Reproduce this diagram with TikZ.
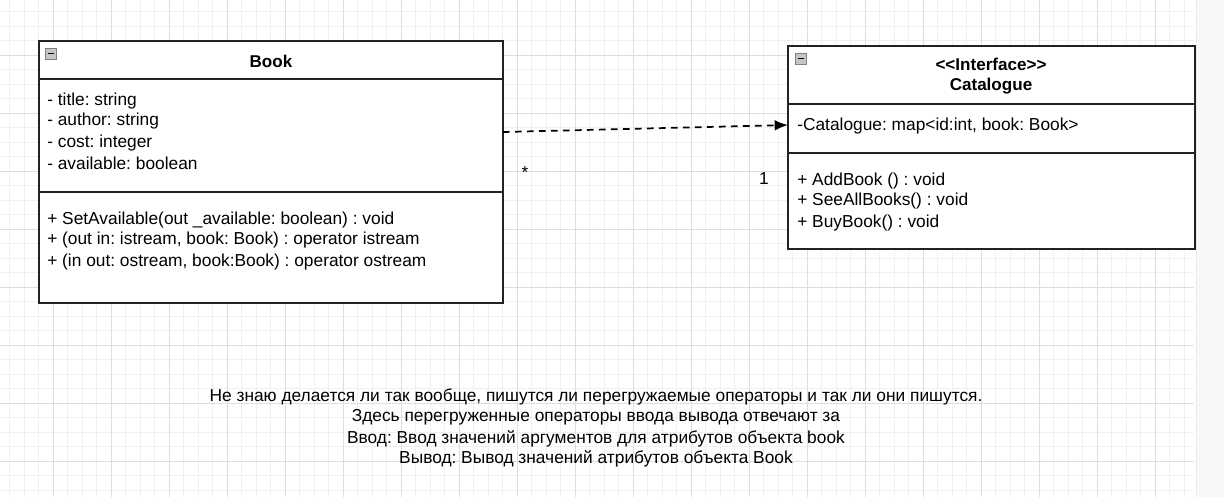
\documentclass[tikz,border=0pt]{standalone}
\usepackage{fontspec}
\setmainfont{Liberation Sans}
\usetikzlibrary{arrows.meta}
\definecolor{gridminor}{HTML}{F0F0F0}
\definecolor{gridmajor}{HTML}{DDDDDD}
\definecolor{boxline}{HTML}{222222}
\definecolor{strip}{HTML}{F8F8F8}
\frenchspacing
\begin{document}
\begin{tikzpicture}[x=0.75pt,y=-0.75pt,
		member/.style={anchor=west, inner sep=0pt, yshift=-1.5pt, font=\fontsize{13}{15}\selectfont},
		classname/.style={inner sep=0pt, align=center, font=\fontsize{12.8}{15}\selectfont\bfseries},
		note/.style={inner sep=0pt, yshift=-1.5pt, font=\fontsize{13}{15}\selectfont}]
		\useasboundingbox (0,0) rectangle (1224,497);
		
		% background grid
		\fill[white] (0,0) rectangle (1196,497);
		\fill[strip] (1196,0) rectangle (1224,497);
		\draw[gridmajor!60, line width=0.4pt] (1196,0) -- (1196,497);
		\foreach \k in {0,...,81} \draw[gridminor, line width=0.6pt] ({9.8+14.5*\k},0) -- ({9.8+14.5*\k},497);
		\foreach \k in {0,...,33} \draw[gridminor, line width=0.6pt] (0,{11.5+14.5*\k}) -- (1194,{11.5+14.5*\k});
		\foreach \k in {0,...,19} \draw[gridmajor, line width=0.6pt] ({53.3+58*\k},0) -- ({53.3+58*\k},497);
		\foreach \k in {0,...,7} \draw[gridmajor, line width=0.6pt] (0,{55+58*\k}) -- (1194,{55+58*\k});
		
		\coordinate (B1) at (39,41);
		\coordinate (B2) at (503,303);
		\coordinate (C1) at (788,46);
		\coordinate (C2) at (1195,249);
		
		% Book
		\filldraw[boxline, line width=1.3pt, fill=white] (B1) rectangle (B2);
		\draw[boxline, line width=1.3pt] (39,79) -- (503,79);
		\draw[boxline, line width=1.3pt] (39,192) -- (503,192);
		\filldraw[draw=gray, fill=gray!45, line width=0.6pt] (45,48) rectangle (56,59);
		\draw[black, line width=1pt] (47.5,53.5) -- (53.5,53.5);
		\node[classname] (bookname) at (271,61) {Book};
		\node[member] (title) at (47,99) {- title: string};
		\node[member] (author) at (47,119) {- author: string};
		\node[member] (cost) at (47,141) {- cost: integer};
		\node[member] (avail) at (47,161) {- available: boolean};
		\node[member] (setavail) at (47,218) {+ SetAvailable(out \_available: boolean) : void};
		\node[member] (opin) at (47,238) {+ (out in: istream, book: Book) : operator istream};
		\node[member] (opout) at (47,260) {+ (in out: ostream, book:Book) : operator ostream};
		
		% Catalogue
		\filldraw[boxline, line width=1.3pt, fill=white] (C1) rectangle (C2);
		\draw[boxline, line width=1.3pt] (788,104) -- (1195,104);
		\draw[boxline, line width=1.3pt] (788,153) -- (1195,153);
		\filldraw[draw=gray, fill=gray!45, line width=0.6pt] (795,53) rectangle (806,64);
		\draw[black, line width=1pt] (797.5,58.5) -- (803.5,58.5);
		\node[classname] (catname) at (991,76) {<\kern0pt<Interface>\kern0pt>\\Catalogue};
		\node[member] (catmap) at (797,124) {-Catalogue: map<id:int, book: Book>};
		\node[member] (addbook) at (797,179) {+ AddBook () : void};
		\node[member] (seeall) at (797,199) {+ SeeAllBooks() : void};
		\node[member] (buybook) at (797,221) {+ BuyBook() : void};
		
		% association
		\coordinate (bookport) at (503,132);
		\coordinate (catport) at (788,125);
		\draw[black, line width=1.3pt, dash pattern=on 5pt off 4pt, -{Latex[length=10pt,width=8pt]}] (bookport) -- (catport);
		\node[member, anchor=center] (many) at (525,171) {*};
		\node[member, anchor=center] (one) at (764,177) {1};
		
		% note
		\node[note] (line1) at (596,395) {Не знаю делается ли так вообще, пишутся ли перегружаемые операторы и так ли они пишутся.};
		\node[note] (line2) at (596,415) {Здесь перегруженные операторы ввода вывода отвечают за};
		\node[note] (line3) at (596,437) {Ввод: Ввод значений аргументов для атрибутов объекта book};
		\node[note] (line4) at (596,457) {Вывод: Вывод значений атрибутов объекта Book};
\end{tikzpicture}
\end{document}
